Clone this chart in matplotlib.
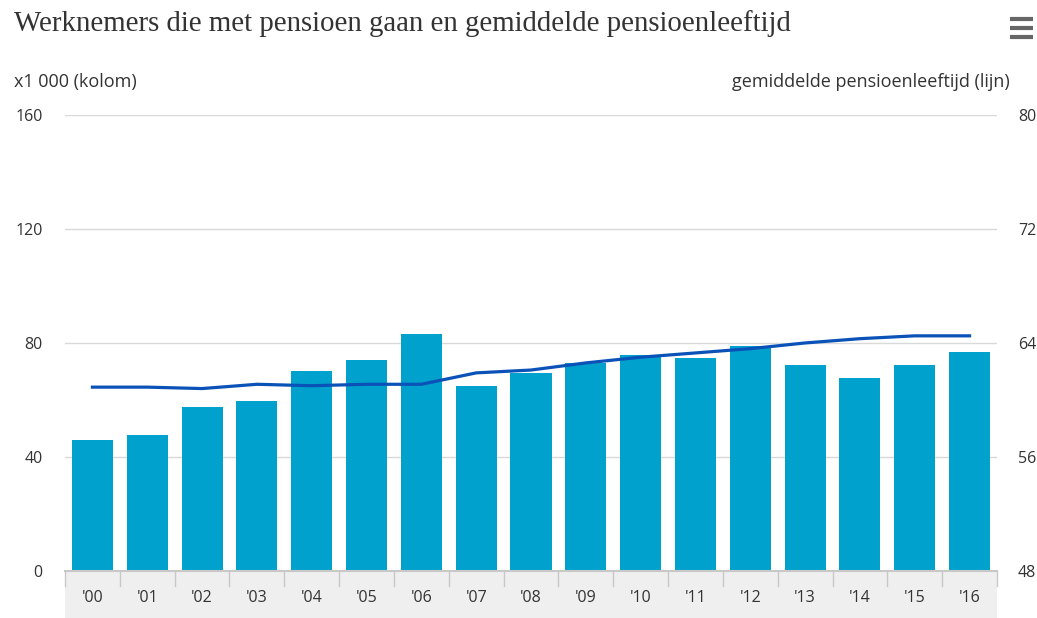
import numpy as np
import matplotlib
matplotlib.use("Agg")
import matplotlib.pyplot as plt
from matplotlib.patches import Rectangle
from matplotlib.lines import Line2D

# gegevens
jaren = ["'00", "'01", "'02", "'03", "'04", "'05", "'06", "'07", "'08",
         "'09", "'10", "'11", "'12", "'13", "'14", "'15", "'16"]
werknemers = [46.0, 47.7, 57.5, 59.6, 70.0, 74.0, 83.3, 65.0, 69.5,
              73.1, 75.7, 74.6, 79.0, 72.4, 67.7, 72.4, 76.8]
pensioenleeftijd = [60.9, 60.9, 60.8, 61.1, 61.0, 61.1, 61.1, 61.9, 62.1,
                    62.6, 63.0, 63.3, 63.6, 64.0, 64.3, 64.5, 64.5]

plt.rcParams['font.family'] = ['Open Sans', 'DejaVu Sans']
tekst = '#333333'

fig = plt.figure(figsize=(10.37, 6.18), dpi=100)
ax = fig.add_axes([0.0627, 0.0761, 0.8987, 0.7379])
x = np.arange(len(jaren))

ax.bar(x, werknemers, width=0.75, color='#00a1cd', zorder=2)
ax.set_xlim(-0.5, len(jaren) - 0.5)
ax.set_ylim(0, 160)
ax.set_yticks([0, 40, 80, 120, 160])
ax.grid(axis='y', color='#d9d9d9', lw=1, zorder=0)
for s in ax.spines.values():
    s.set_visible(False)
ax.tick_params(axis='y', length=0, pad=16, labelsize=11.5, labelcolor=tekst)
for lbl in ax.get_yticklabels():
    lbl.set_horizontalalignment('right')
ax.set_xticks(x)
ax.set_xticklabels(jaren)
ax.tick_params(axis='x', length=0, pad=14, labelsize=11.5, labelcolor=tekst)

# grijze band onder de x-as
ax.add_patch(Rectangle((-0.5, 0), len(jaren), -1, transform=ax.get_xaxis_transform(),
                       facecolor='#efefef', edgecolor='none', clip_on=False, zorder=0))
ax.add_line(Line2D([-0.5, len(jaren) - 0.5], [0, 0], color='#c8c8c8', lw=1.5,
                   transform=ax.get_xaxis_transform(), clip_on=False, zorder=3))
for b in np.arange(-0.5, len(jaren), 1.0):
    ax.add_line(Line2D([b, b], [0, -0.033], color='#c8c8c8', lw=1,
                       transform=ax.get_xaxis_transform(), clip_on=False))

ax2 = ax.twinx()
ax2.plot(x, pensioenleeftijd, color='#0a52b8', lw=2.3, zorder=4)
ax2.set_ylim(48, 80)
ax2.set_yticks([48, 56, 64, 72, 80])
for s in ax2.spines.values():
    s.set_visible(False)
ax2.tick_params(axis='y', length=0, pad=15, labelsize=11.5, labelcolor=tekst)

fig.text(0.0135, 0.962, 'Werknemers die met pensioen gaan en gemiddelde pensioenleeftijd',
         family=['Liberation Serif', 'DejaVu Serif'], fontsize=20.8, color=tekst, va='center')
fig.text(0.0135, 0.868, 'x1 000 (kolom)', fontsize=13, color=tekst, va='center')
fig.text(0.974, 0.868, 'gemiddelde pensioenleeftijd (lijn)', fontsize=13,
         color=tekst, va='center', ha='right')

# menu-icoon
for yy in [19, 28, 37]:
    fig.add_artist(Line2D([1010 / 1037, 1033 / 1037], [1 - yy / 618] * 2,
                          color='#666666', lw=3, solid_capstyle='butt'))

fig.savefig('out.png', dpi=100)
